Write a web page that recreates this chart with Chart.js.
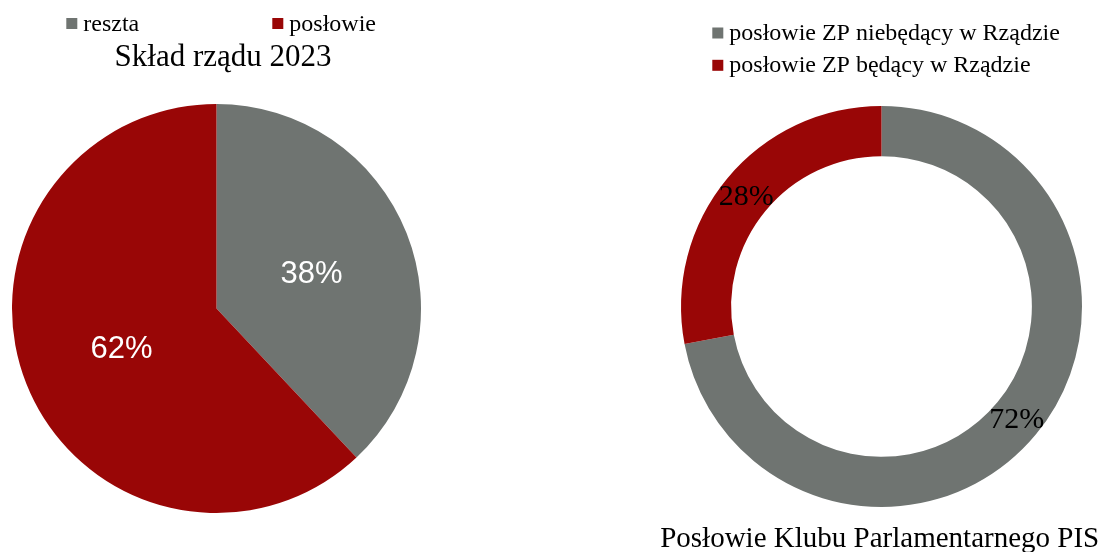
<!DOCTYPE html>
<html lang="pl">
<head>
<meta charset="utf-8">
<title>Skład rządu 2023</title>
<script src="https://cdn.jsdelivr.net/npm/chart.js@4/dist/chart.umd.min.js"></script>
<style>
  html, body { margin: 0; padding: 0; background: #fff; }
  body { width: 1106px; height: 552px; position: relative; overflow: hidden; }
  canvas { position: absolute; top: 0; }
  #govChart { left: 0; }
  #clubChart { left: 553px; }
</style>
</head>
<body>
<canvas id="govChart" width="433" height="552"></canvas>
<canvas id="clubChart" width="553" height="552"></canvas>
<script>
const govLabels = ['reszta', 'posłowie'];
const govValues = [38, 62];
const govTitle = 'Skład rządu 2023';

const clubLabels = ['posłowie ZP niebędący w Rządzie', 'posłowie ZP będący w Rządzie'];
const clubValues = [72, 28];
const clubTitle = 'Posłowie Klubu Parlamentarnego PIS';

const sliceColors = ['#6f7471', '#990606'];

const SERIF = '"Liberation Serif", "Times New Roman", serif';
const SANS = '"Liberation Sans", Arial, sans-serif';

// percentage text in the middle of each arc
const arcLabels = {
  id: 'arcLabels',
  afterDatasetsDraw(chart, args, opts) {
    const { ctx } = chart;
    const values = chart.data.datasets[0].data;
    const total = values.reduce((a, b) => a + b, 0);
    ctx.save();
    ctx.font = opts.font;
    ctx.fillStyle = opts.color;
    ctx.textAlign = 'center';
    ctx.textBaseline = 'middle';
    chart.getDatasetMeta(0).data.forEach((arc, i) => {
      const { x, y } = arc.tooltipPosition();
      ctx.fillText(Math.round(values[i] / total * 100) + '%', x, y + opts.shiftY);
    });
    ctx.restore();
  },
};

// legend squares + title, placed where the original has them
const captions = {
  id: 'captions',
  afterDraw(chart, args, opts) {
    const { ctx } = chart;
    const labels = chart.data.labels;
    const colors = chart.data.datasets[0].backgroundColor;
    ctx.save();
    ctx.textAlign = 'left';
    ctx.textBaseline = 'alphabetic';
    ctx.font = opts.legendFont;
    opts.legendSpots.forEach((spot, i) => {
      ctx.fillStyle = colors[i];
      ctx.fillRect(spot.x, spot.baseline - 12.5, 11, 11);
      ctx.fillStyle = '#000';
      ctx.fillText(labels[i], spot.x + 17, spot.baseline);
    });
    ctx.font = opts.titleFont;
    ctx.textAlign = 'center';
    ctx.fillText(opts.title, opts.titleX, opts.titleBaseline);
    ctx.restore();
  },
};

const baseOptions = {
  responsive: false,
  animation: false,
  events: [],
  plugins: {
    legend: { display: false },
    title: { display: false },
    tooltip: { enabled: false },
  },
};

new Chart(document.getElementById('govChart'), {
  type: 'pie',
  data: {
    labels: govLabels,
    datasets: [{
      data: govValues,
      backgroundColor: sliceColors,
      borderWidth: 0,
    }],
  },
  options: {
    ...baseOptions,
    layout: { padding: { top: 104, bottom: 39, left: 0, right: 0 } },
    plugins: {
      ...baseOptions.plugins,
      arcLabels: { font: '31px ' + SANS, color: '#ffffff', shiftY: 3.5 },
      captions: {
        legendFont: '24px ' + SERIF,
        legendSpots: [{ x: 66.3, baseline: 30.5 }, { x: 272.3, baseline: 30.5 }],
        titleFont: '31px ' + SERIF,
        title: govTitle,
        titleX: 223,
        titleBaseline: 65.5,
      },
    },
  },
  plugins: [arcLabels, captions],
});

new Chart(document.getElementById('clubChart'), {
  type: 'doughnut',
  data: {
    labels: clubLabels,
    datasets: [{
      data: clubValues,
      backgroundColor: sliceColors,
      borderWidth: 0,
    }],
  },
  options: {
    ...baseOptions,
    cutout: '75%',
    layout: { padding: { top: 106, bottom: 45, left: 128, right: 24 } },
    plugins: {
      ...baseOptions.plugins,
      arcLabels: { font: '30px ' + SERIF, color: '#000000', shiftY: 2 },
      captions: {
        legendFont: '24px ' + SERIF,
        legendSpots: [{ x: 159.3, baseline: 40 }, { x: 159.3, baseline: 72.3 }],
        titleFont: '29px ' + SERIF,
        title: clubTitle,
        titleX: 326.7,
        titleBaseline: 546.5,
      },
    },
  },
  plugins: [arcLabels, captions],
});
</script>
</body>
</html>
